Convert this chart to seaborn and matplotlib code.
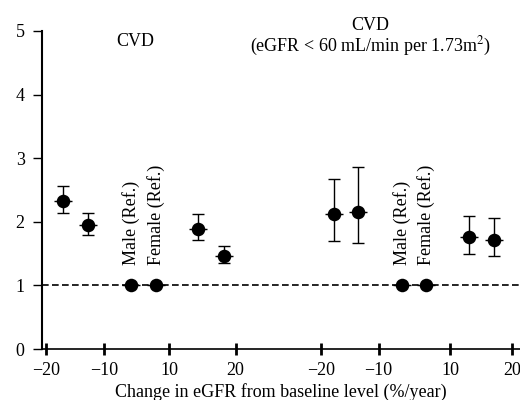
import numpy as np
import pandas as pd
import matplotlib
matplotlib.use("Agg")
import matplotlib.pyplot as plt
import seaborn as sns

# positions along the drawing axis (0-100), left panel = CVD, right panel = CVD with eGFR < 60
x_all = [4.4, 9.6, 18.6, 23.8, 32.6, 38.1]
x_ckd = [61.1, 66.2, 75.3, 80.3, 89.3, 94.6]

# hazard ratios with 95% CI
hr_all = [2.33, 1.95, 1.0, 1.0, 1.88, 1.47]
lo_all = [2.14, 1.80, 1.0, 1.0, 1.71, 1.36]
hi_all = [2.57, 2.14, 1.0, 1.0, 2.12, 1.62]

hr_ckd = [2.13, 2.16, 1.0, 1.0, 1.76, 1.72]
lo_ckd = [1.70, 1.66, 1.0, 1.0, 1.49, 1.46]
hi_ckd = [2.67, 2.86, 1.0, 1.0, 2.09, 2.06]

# broken x axis: -20, -10, 10, 20 in each panel
tick_pos = [0.8, 13.0, 26.6, 40.5, 58.4, 70.4, 85.4, 98.4]
tick_labels = ["\u221220", "\u221210", "10", "20"] * 2
ref_labels = ["Male (Ref.)", "Female (Ref.)"]

df = pd.DataFrame({
    "x": x_all + x_ckd,
    "hr": hr_all + hr_ckd,
    "lo": lo_all + lo_ckd,
    "hi": hi_all + hi_ckd,
})

sns.set_theme(style="ticks")
plt.rcParams["font.family"] = ["Liberation Serif", "DejaVu Serif"]
plt.rcParams["mathtext.fontset"] = "stix"
plt.rcParams["text.color"] = "black"
plt.rcParams["axes.labelcolor"] = "black"
plt.rcParams["xtick.color"] = "black"
plt.rcParams["ytick.color"] = "black"

fig = plt.figure(figsize=(5.2, 4), dpi=100)
ax = fig.add_axes([42 / 520, 51 / 400, 478 / 520, 318 / 400])

# reference line
ax.axhline(1, ls=(0, (4, 2)), lw=1.2, color="black", zorder=1)

# confidence intervals
ax.errorbar(df["x"], df["hr"], yerr=[df["hr"] - df["lo"], df["hi"] - df["hr"]],
            fmt="none", ecolor="black", elinewidth=1, capsize=4.5, capthick=1, zorder=2)

# small horizontal dash through each point, then the points
sns.scatterplot(data=df, x="x", y="hr", marker="_", s=170, linewidth=1,
                color="black", ax=ax, zorder=3)
sns.scatterplot(data=df, x="x", y="hr", s=95, color="black", edgecolor="black",
                linewidth=0, ax=ax, zorder=4)

# reference labels
for i, lab in enumerate(ref_labels):
    ax.text(x_all[2 + i], 1.32, lab, rotation=90, ha="center", va="bottom", fontsize=13)
    ax.text(x_ckd[2 + i], 1.32, lab, rotation=90, ha="center", va="bottom", fontsize=13)

# panel titles
ax.text(19.5, 4.83, "CVD", ha="center", va="center", fontsize=13)
ax.text(68.6, 5.09, "CVD", ha="center", va="center", fontsize=13, clip_on=False)
ax.text(68.6, 4.75, "(eGFR < 60 mL/min per 1.73m$^{2}$)", ha="center", va="center", fontsize=13)

ax.set_xlim(0, 100)
ax.set_ylim(0, 5)
ax.set_yticks([0, 1, 2, 3, 4, 5])
ax.set_xticks(tick_pos)
ax.set_xticklabels(tick_labels)
ax.tick_params(axis="y", direction="out", length=6.5, width=1, labelsize=13, pad=6, color="black")
ax.tick_params(axis="x", direction="inout", length=9, width=2, labelsize=13, pad=5, color="black")

ax.set_xlabel("Change in eGFR from baseline level (%/year)", fontsize=13, labelpad=3)
ax.set_ylabel("")

sns.despine(ax=ax)
ax.spines["left"].set_linewidth(1.5)
ax.spines["bottom"].set_linewidth(1.2)
ax.spines["left"].set_color("black")
ax.spines["bottom"].set_color("black")

fig.savefig("out.png", dpi=100)
